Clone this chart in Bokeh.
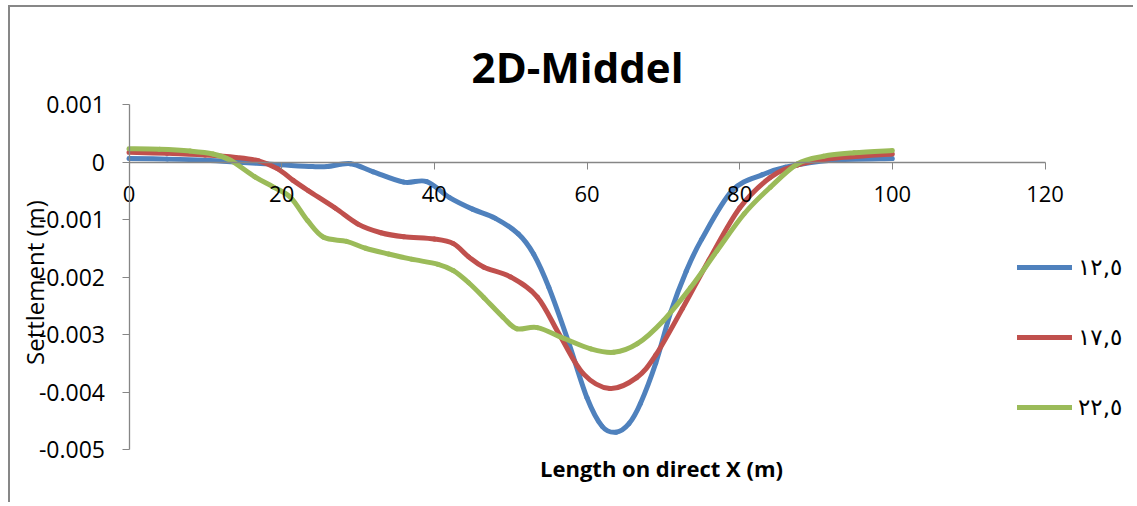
import numpy as np
from bokeh.plotting import figure
from bokeh.models import (Range1d, FixedTicker, NumeralTickFormatter, Label,
                          Legend, LegendItem, ColumnDataSource)
from bokeh.embed import file_html
from bokeh.resources import INLINE

# ---------------- data ----------------
title_text = "2D-Middel"
x_title = "Length on direct X (m)"
y_title = "Settlement (m)"
series_names = ["١٢,٥", "١٧,٥", "٢٢,٥"]
series_colors = ["#4F81BD", "#C0504D", "#9BBB59"]
x_ticks = [0, 20, 40, 60, 80, 100, 120]
y_ticks = [-0.005, -0.004, -0.003, -0.002, -0.001, 0.0, 0.001]

x_125 = [0, 5, 10, 15, 20, 24, 26, 29, 32, 36, 39, 42, 45, 48, 51, 53, 55, 57.5,
         60, 62, 63.8, 65.5, 67, 69, 71, 73, 75, 79, 83, 86, 92, 100]
y_125 = [0.00006, 0.00005, 0.00003, -0.00001, -0.00005, -0.00008, -0.00008, -0.00003,
         -0.00017, -0.00035, -0.00034, -0.00062, -0.00082, -0.00098, -0.00125, -0.00160,
         -0.00218, -0.0031, -0.0041, -0.0046, -0.0047, -0.00455, -0.0042, -0.0035,
         -0.0026, -0.0019, -0.00135, -0.0005, -0.00022, -0.00009, 0.00003, 0.00006]

x_175 = [0, 5, 10, 14, 17, 19.5, 21.5, 23.5, 27, 30, 33, 36, 40, 42.5, 44.5, 46.5,
         50, 53.5, 56.5, 59.5, 63, 66.5, 69, 72.5, 76, 80, 84, 87.6, 92, 100]
y_175 = [0.00017, 0.00015, 0.00012, 0.00008, 0.00002, -0.00012, -0.00032, -0.0005,
         -0.0008, -0.00108, -0.00123, -0.0013, -0.00134, -0.00142, -0.00165, -0.00183,
         -0.002, -0.00235, -0.00303, -0.00368, -0.00394, -0.00375, -0.00336, -0.00255,
         -0.0017, -0.0008, -0.00027, -0.00005, 0.00006, 0.00014]

x_225 = [0, 4, 8, 11, 13.3, 16.5, 19, 21.2, 23.4, 25.5, 28.5, 31, 34, 37, 40.5, 42.5,
         44.5, 46.5, 49, 50.8, 53.5, 57, 60.5, 63.5, 66.6, 70, 73.6, 77, 80.6, 84, 87.6,
         91, 95, 100]
y_225 = [0.00023, 0.00022, 0.00019, 0.00014, 0.00003, -0.00026, -0.00044, -0.00062,
         -0.00102, -0.00131, -0.00138, -0.0015, -0.0016, -0.00169, -0.00178, -0.00189,
         -0.0021, -0.00236, -0.0027, -0.0029, -0.00288, -0.00307, -0.00325, -0.00331,
         -0.00316, -0.00276, -0.00218, -0.00155, -0.0009, -0.00044, -0.00003,
         0.0001, 0.00016, 0.0002]

series_x = [x_125, x_175, x_225]
series_y = [y_125, y_175, y_225]

FONT = "Open Sans"
AXIS_COLOR = "#868686"

# canvas geometry: canvas starts at page (10, 7); the plot area
# (x 0..120, y -0.005..0.001) sits at page px x 128.5..1044.5, y 104..449
CX, CY = 10, 7
W, H = 1125, 497
PX_X = 916 / 120.0
PX_Y = 345 / 0.006
X0 = -(128.5 - CX) / PX_X
X1 = (W - (128.5 - CX)) / PX_X
Y1 = 0.001 + (104 - CY) / PX_Y
Y0 = -0.005 - (CY + H - 449) / PX_Y


def smooth_segments(xs, ys):
    """Bezier control points (Catmull-Rom style, like Excel smoothed lines)."""
    x = np.asarray(xs, float)
    y = np.asarray(ys, float)
    xp = np.concatenate([[x[0]], x, [x[-1]]])
    yp = np.concatenate([[y[0]], y, [y[-1]]])
    n = len(x)
    d = dict(x0=[], y0=[], x1=[], y1=[], cx0=[], cy0=[], cx1=[], cy1=[])
    for i in range(n - 1):
        p0x, p0y = xp[i], yp[i]
        p1x, p1y = xp[i + 1], yp[i + 1]
        p2x, p2y = xp[i + 2], yp[i + 2]
        p3x, p3y = xp[i + 3], yp[i + 3]
        d["x0"].append(p1x); d["y0"].append(p1y)
        d["x1"].append(p2x); d["y1"].append(p2y)
        d["cx0"].append(p1x + (p2x - p0x) / 6.0)
        d["cy0"].append(p1y + (p2y - p0y) / 6.0)
        d["cx1"].append(p2x - (p3x - p1x) / 6.0)
        d["cy1"].append(p2y - (p3y - p1y) / 6.0)
    return ColumnDataSource(d)


p = figure(width=W, height=H, min_border=0,
           x_range=Range1d(X0, X1), y_range=Range1d(Y0, Y1),
           output_backend="svg", toolbar_location=None)
p.title.visible = False
p.styles = {"margin-left": "8px", "margin-top": "5px",
            "border-top": "2px solid #878787", "border-left": "2px solid #878787"}
p.outline_line_color = None
p.xgrid.visible = False
p.ygrid.visible = False
p.background_fill_color = "white"
p.border_fill_color = "white"

# x axis crossing at y = 0
xa = p.xaxis[0]
xa.fixed_location = 0
xa.bounds = (0, 120)
xa.ticker = FixedTicker(ticks=x_ticks)
xa.axis_line_color = AXIS_COLOR
xa.axis_line_width = 1.3
xa.major_tick_line_color = AXIS_COLOR
xa.major_tick_out = 7
xa.major_tick_in = 0
xa.minor_tick_line_color = None
xa.major_label_text_font = FONT
xa.major_label_text_font_size = "22px"
xa.major_label_text_color = "black"
xa.major_label_standoff = 17

ya = p.yaxis[0]
ya.fixed_location = 0
ya.bounds = (-0.005, 0.001)
ya.ticker = FixedTicker(ticks=y_ticks)
ya.formatter = NumeralTickFormatter(format="0.[000]")
ya.axis_line_color = AXIS_COLOR
ya.axis_line_width = 1.3
ya.major_tick_line_color = AXIS_COLOR
ya.major_tick_out = 7
ya.major_tick_in = 0
ya.minor_tick_line_color = None
ya.major_label_text_font = FONT
ya.major_label_text_font_size = "23px"
ya.major_label_text_color = "black"
ya.major_label_standoff = 17

items = []
for xs, ys, name, col in zip(series_x, series_y, series_names, series_colors):
    src = smooth_segments(xs, ys)
    r = p.bezier(x0="x0", y0="y0", x1="x1", y1="y1", cx0="cx0", cy0="cy0",
                 cx1="cx1", cy1="cy1", source=src, line_color=col,
                 line_width=5, line_cap="round", line_join="round")
    items.append(LegendItem(label=name, renderers=[r]))

legend = Legend(items=items, location=(1017 - CX, CY + H - 420), orientation="vertical",
                glyph_width=55, glyph_height=22, label_height=22, spacing=44,
                label_standoff=6, padding=0, margin=0,
                border_line_color=None, background_fill_alpha=0,
                label_text_font="DejaVu Sans", label_text_font_size="23px",
                label_text_color="black")
p.add_layout(legend)

p.add_layout(Label(x=58.76, y=0.001661, text=title_text, text_align="center",
                   text_baseline="alphabetic", text_font=FONT,
                   text_font_style="bold", text_font_size="42px",
                   text_color="black"))
p.add_layout(Label(x=69.76, y=-0.00533, text=x_title, text_align="center",
                   text_baseline="alphabetic", text_font=FONT,
                   text_font_style="bold", text_font_size="22px",
                   text_color="black"))
p.add_layout(Label(x=-12.38, y=-0.002096, text=y_title, text_align="center",
                   text_baseline="middle", angle=np.pi / 2,
                   text_font=FONT, text_font_size="24px",
                   text_color="black"))

open("out.html", "w").write(file_html(p, INLINE))
